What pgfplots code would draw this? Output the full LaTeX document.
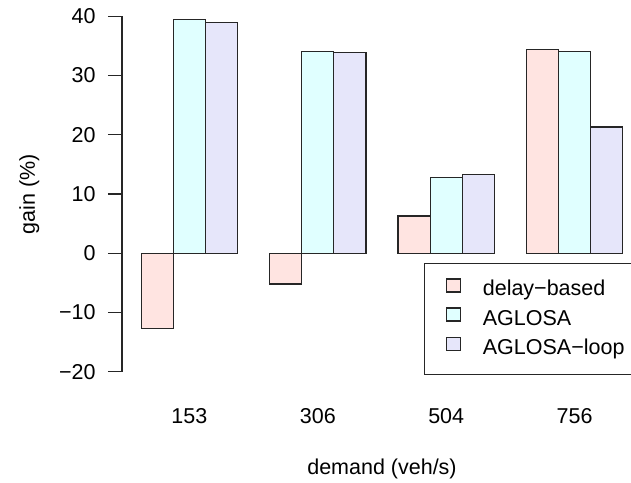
\documentclass[border=0pt]{standalone}
\usepackage{fontspec}
\setmainfont{Liberation Sans}
\usepackage{pgfplots}
\pgfplotsset{compat=1.18}
\definecolor{cdelay}{RGB}{255,228,225}
\definecolor{caglosa}{RGB}{224,255,255}
\definecolor{cloop}{RGB}{230,230,250}
\pgfplotsset{
  mybar/.style={ybar, bar width=1, bar shift=0pt, draw=black!85, line width=1.2bp,
    legend image code/.code={\draw[##1,draw=black!85,line width=1.2bp] (0bp,-1bp) rectangle (14bp,12bp);}},
}
\begin{document}
\begin{tikzpicture}[font=\fontsize{21.5bp}{26bp}\selectfont]
\useasboundingbox (-122bp,-97bp) rectangle (509bp,386bp);
\clip (-122bp,-97bp) rectangle (509bp,386bp);
\begin{axis}[
  scale only axis,
  width=520bp, height=384bp,
  xmin=0.4, xmax=16.6, ymin=-22.4, ymax=42.4,
  clip=false,
  axis lines*=left,
  axis line style={draw=none},
  xtick={2.5,6.5,10.5,14.5},
  xticklabels={153,306,504,756},
  xtick style={draw=none},
  xtick align=inside,
  ytick={-20,-10,0,10,20,30,40},
  yticklabels={−20,−10,0,10,20,30,40},
  ytick align=outside,
  major tick length=14bp,
  ytick style={draw=black!85, line width=1.2bp},
  yticklabel style={anchor=east, xshift=-9bp},
  xticklabel style={anchor=base, yshift=-37bp},
  xlabel={demand (veh/s)},
  ylabel={gain (\%)},
  xlabel style={at={(axis description cs:0.5,-0.216)}, anchor=center},
  ylabel style={at={(axis description cs:-0.178,0.5)}, anchor=center, rotate=0},
  legend style={at={(axis cs:9.81,-1.6)}, anchor=north west, draw=black!85, line width=1.2bp,
    fill=white, inner xsep=21bp, inner ysep=15bp, row sep=6.5bp, column sep=22bp,
    nodes={inner sep=0pt, text depth=5bp, text height=15bp}},
  legend cell align=left,
]
\addplot[mybar, fill=cdelay] coordinates {(1.5,-12.65) (5.5,-5.2) (9.5,6.3) (13.5,34.4)};
\addplot[mybar, fill=caglosa] coordinates {(2.5,39.45) (6.5,34.0) (10.5,12.8) (14.5,34.1)};
\addplot[mybar, fill=cloop] coordinates {(3.5,39.0) (7.5,33.9) (11.5,13.3) (15.5,21.3)};
\legend{delay−based, AGLOSA, AGLOSA−loop}
\draw[draw=black!85, line width=1.2bp] (axis cs:0.4,-20) -- (axis cs:0.4,40);
\end{axis}
\end{tikzpicture}
\end{document}
